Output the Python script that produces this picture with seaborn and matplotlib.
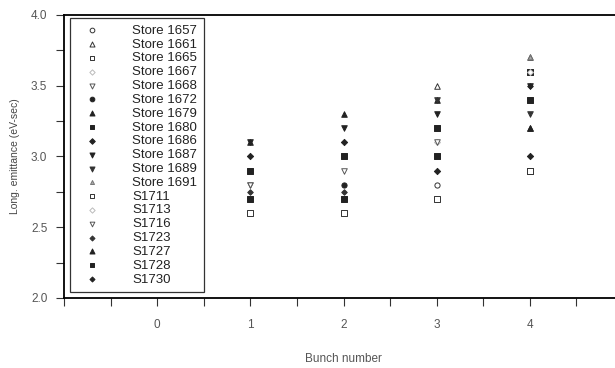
import numpy as np
import pandas as pd
import seaborn as sns
import matplotlib.pyplot as plt
from matplotlib.ticker import MultipleLocator

nan = np.nan

bunch = [1, 2, 3, 4]

series = ['Store 1657', 'Store 1661', 'Store 1665', 'Store 1667', 'Store 1668',
          'Store 1672', 'Store 1679', 'Store 1680', 'Store 1686', 'Store 1687',
          'Store 1689', 'Store 1691', 'S1711', 'S1713', 'S1716', 'S1723',
          'S1727', 'S1728', 'S1730']

# emittance per store, bunch 1..4 (nan = not measured)
s1657 = [nan, nan, 2.8, nan]
s1661 = [nan, nan, 3.5, 3.7]
s1665 = [2.6, 2.6, 2.7, 2.9]
s1667 = [nan, nan, 3.1, nan]
s1668 = [2.8, 2.9, 3.1, nan]
s1672 = [nan, 2.8, nan, nan]
s1679 = [3.1, 3.3, 3.4, 3.2]
s1680 = [2.9, 3.0, 3.2, 3.6]
s1686 = [3.0, 3.1, 2.9, 3.0]
s1687 = [3.1, 3.2, 3.3, 3.5]
s1689 = [nan, nan, 3.4, 3.3]
s1691 = [nan, nan, nan, 3.7]
s1711 = [nan, nan, nan, 2.9]
s1713 = [nan, nan, nan, 3.6]
s1716 = [2.8, nan, nan, nan]
s1723 = [2.75, 2.75, nan, nan]
s1727 = [nan, nan, nan, 3.2]
s1728 = [2.7, 2.7, 3.0, 3.4]
s1730 = [nan, nan, nan, 3.5]

values = [s1657, s1661, s1665, s1667, s1668, s1672, s1679, s1680, s1686, s1687,
          s1689, s1691, s1711, s1713, s1716, s1723, s1727, s1728, s1730]

# marker, face, edge, size
styles = [('o', 'white', '#333333', 14), ('^', 'white', '#333333', 16),
          ('s', 'white', '#333333', 13), ('D', 'white', '#bbbbbb', 9),
          ('v', 'white', '#555555', 16), ('o', '#222222', '#222222', 14),
          ('^', '#222222', '#222222', 16), ('s', '#222222', '#222222', 13),
          ('D', '#222222', '#222222', 10), ('v', '#222222', '#222222', 16),
          ('v', '#333333', '#333333', 16), ('^', '#aaaaaa', '#777777', 10),
          ('s', 'white', '#333333', 13), ('D', 'white', '#bbbbbb', 9),
          ('v', 'white', '#555555', 14), ('D', '#333333', '#333333', 8),
          ('^', '#222222', '#222222', 16), ('s', '#222222', '#222222', 13),
          ('D', '#222222', '#222222', 8)]

rows = []
for name, vals in zip(series, values):
    for b, v in zip(bunch, vals):
        rows.append((name, b, v))
df = pd.DataFrame(rows, columns=['store', 'bunch', 'emit'])

sns.set_style('ticks')
plt.rcParams['font.family'] = ['Liberation Sans', 'DejaVu Sans']

fig = plt.figure(figsize=(6.15, 3.68), dpi=100)
ax = fig.add_axes([64 / 615, 70 / 368, 559 / 615, 283 / 368])

for name, (m, fc, ec, s) in zip(series, styles):
    d = df[df['store'] == name]
    sns.scatterplot(data=d, x='bunch', y='emit', marker=m, s=s, color=ec,
                    facecolor=fc, edgecolor=ec, linewidth=0.7, label=name, ax=ax)

ax.set_xlim(-1, 5)
ax.set_ylim(2.0, 4.0)
ax.xaxis.set_major_locator(MultipleLocator(1))
ax.xaxis.set_minor_locator(MultipleLocator(0.5))
ax.yaxis.set_major_locator(MultipleLocator(0.5))
ax.yaxis.set_minor_locator(MultipleLocator(0.25))
ax.set_xticks([0, 1, 2, 3, 4])
ax.yaxis.set_major_formatter(plt.FormatStrFormatter('%.1f'))
ax.tick_params(which='both', direction='out', length=6, width=0.8,
               colors='#333333', labelsize=8.5, labelcolor='#555555')
ax.tick_params(axis='x', pad=9)
ax.tick_params(axis='y', pad=6)
for sp in ax.spines.values():
    sp.set_linewidth(1.3)
    sp.set_color('black')

ax.set_xlabel('Bunch number', fontsize=8.5, color='#555555', labelpad=16)
ax.set_ylabel('Long. emittance (eV-sec)', fontsize=7.5, color='#444444', labelpad=8)

leg = ax.legend(loc='upper left', bbox_to_anchor=(6 / 559, 280 / 283), borderaxespad=0,
                fontsize=9.5, frameon=True, fancybox=False, handlelength=2.3,
                handletextpad=1.9, labelspacing=0.12, borderpad=0.5, markerscale=0.9)
leg.get_frame().set_edgecolor('black')
leg.get_frame().set_linewidth(0.9)
for t in leg.get_texts():
    t.set_color('#222222')

plt.savefig('out.png', dpi=100)
